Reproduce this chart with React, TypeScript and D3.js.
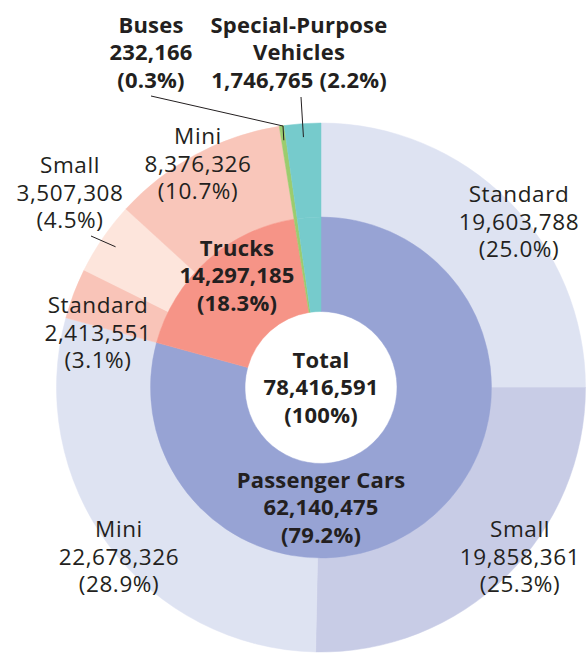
import React, { useEffect, useRef } from 'react';
import * as d3 from 'd3';

const categories = ['Passenger Cars', 'Trucks', 'Buses', 'Special-Purpose Vehicles'];
const categoryValues = [62140475, 14297185, 232166, 1746765];
const categoryPercents = ['79.2%', '18.3%', '0.3%', '2.2%'];
const categoryColors = ['#97a3d4', '#f69487', '#9ccc6e', '#76cbcc'];

const subTypes = ['Standard', 'Small', 'Mini', 'Standard', 'Small', 'Mini', 'Buses', 'Special-Purpose Vehicles'];
const subParents = [0, 0, 0, 1, 1, 1, 2, 3];
const subValues = [19603788, 19858361, 22678326, 2413551, 3507308, 8376326, 232166, 1746765];
const subPercents = ['25.0%', '25.3%', '28.9%', '3.1%', '4.5%', '10.7%', '0.3%', '2.2%'];
const subColors = ['#dee3f2', '#c8cce6', '#dee3f2', '#f9c4b8', '#fde5dc', '#f9c6ba', '#9ccc6e', '#76cbcc'];

const totalValue = 78416591;

const width = 587;
const height = 655;

export default function App() {
  const svgRef = useRef<SVGSVGElement>(null);

  useEffect(() => {
    document.body.style.margin = '0';
    if (!svgRef.current) return;
    const svg = d3.select(svgRef.current);
    svg.selectAll('*').remove();

    const cx = 321;
    const cy = 387.5;
    const rHole = 76;
    const rMid = 170.5;
    const rOut = 264.5;
    const fmt = d3.format(',');
    const font = '"Open Sans", "Noto Sans", sans-serif';
    const ink = '#231f20';

    const g = svg.append('g').attr('transform', `translate(${cx},${cy})`);

    const pie = d3.pie<number>().sort(null).value(d => d);
    const innerArcs = pie(categoryValues);
    const outerArcs = pie(subValues);

    const innerArc = d3.arc<d3.PieArcDatum<number>>().innerRadius(rHole).outerRadius(rMid);
    const outerArc = d3.arc<d3.PieArcDatum<number>>().innerRadius(rMid).outerRadius(rOut);

    // outer ring (sub types)
    g.selectAll('path.outer')
      .data(outerArcs)
      .enter()
      .append('path')
      .attr('class', 'outer')
      .attr('d', d => outerArc(d))
      .attr('fill', (_, i) => subColors[i])
      .attr('stroke', (_, i) => subColors[i])
      .attr('stroke-width', 0.5);

    // inner ring (categories)
    g.selectAll('path.inner')
      .data(innerArcs)
      .enter()
      .append('path')
      .attr('class', 'inner')
      .attr('d', d => innerArc(d))
      .attr('fill', (_, i) => categoryColors[i])
      .attr('stroke', (_, i) => categoryColors[i])
      .attr('stroke-width', 0.5);

    // point on ring at mid angle of an arc
    const polar = (a: d3.PieArcDatum<number>, r: number): [number, number] => {
      const ang = (a.startAngle + a.endAngle) / 2;
      return [cx + r * Math.sin(ang), cy - r * Math.cos(ang)];
    };

    // leader lines
    const leader = (pts: [number, number][]) => {
      svg.append('path')
        .attr('d', d3.line()(pts))
        .attr('fill', 'none')
        .attr('stroke', ink)
        .attr('stroke-width', 1);
    };
    leader([[151, 96], [283, 126], polar(outerArcs[6], 250)]);
    leader([[301, 97], polar(outerArcs[7], 251)]);
    leader([[91, 236], polar(outerArcs[4], 249)]);

    const label = (x: number, y: number, lines: string[], bold: boolean) => {
      const t = svg.append('text')
        .attr('text-anchor', 'middle')
        .attr('font-family', font)
        .attr('font-size', bold ? 22 : 22.5)
        .attr('letter-spacing', bold ? 0.2 : 0.6)
        .attr('font-weight', bold ? 700 : 400)
        .attr('fill', ink);
      lines.forEach((s, i) => {
        t.append('tspan')
          .attr('x', x)
          .attr('y', y + i * 27.5)
          .attr('dy', '0.36em')
          .text(s);
      });
    };

    const subPos: [number, number][] = [
      [519, 194], [520, 529], [119, 529],
      [98, 305], [70, 165], [198, 136],
    ];
    subPos.forEach((p, i) => {
      label(p[0], p[1], [subTypes[i], fmt(subValues[i]), `(${subPercents[i]})`], false);
    });

    label(321, 480, [categories[0], fmt(categoryValues[0]), `(${categoryPercents[0]})`], true);
    label(237, 248, [categories[1], fmt(categoryValues[1]), `(${categoryPercents[1]})`], true);
    label(151, 25, [categories[2], fmt(categoryValues[2]), `(${categoryPercents[2]})`], true);
    label(299, 25, ['Special-Purpose', 'Vehicles', `${fmt(categoryValues[3])} (${categoryPercents[3]})`], true);
    label(321, 360, ['Total', fmt(totalValue), '(100%)'], true);
  }, []);

  return <svg ref={svgRef} width={width} height={height} style={{ display: 'block' }} />;
}
